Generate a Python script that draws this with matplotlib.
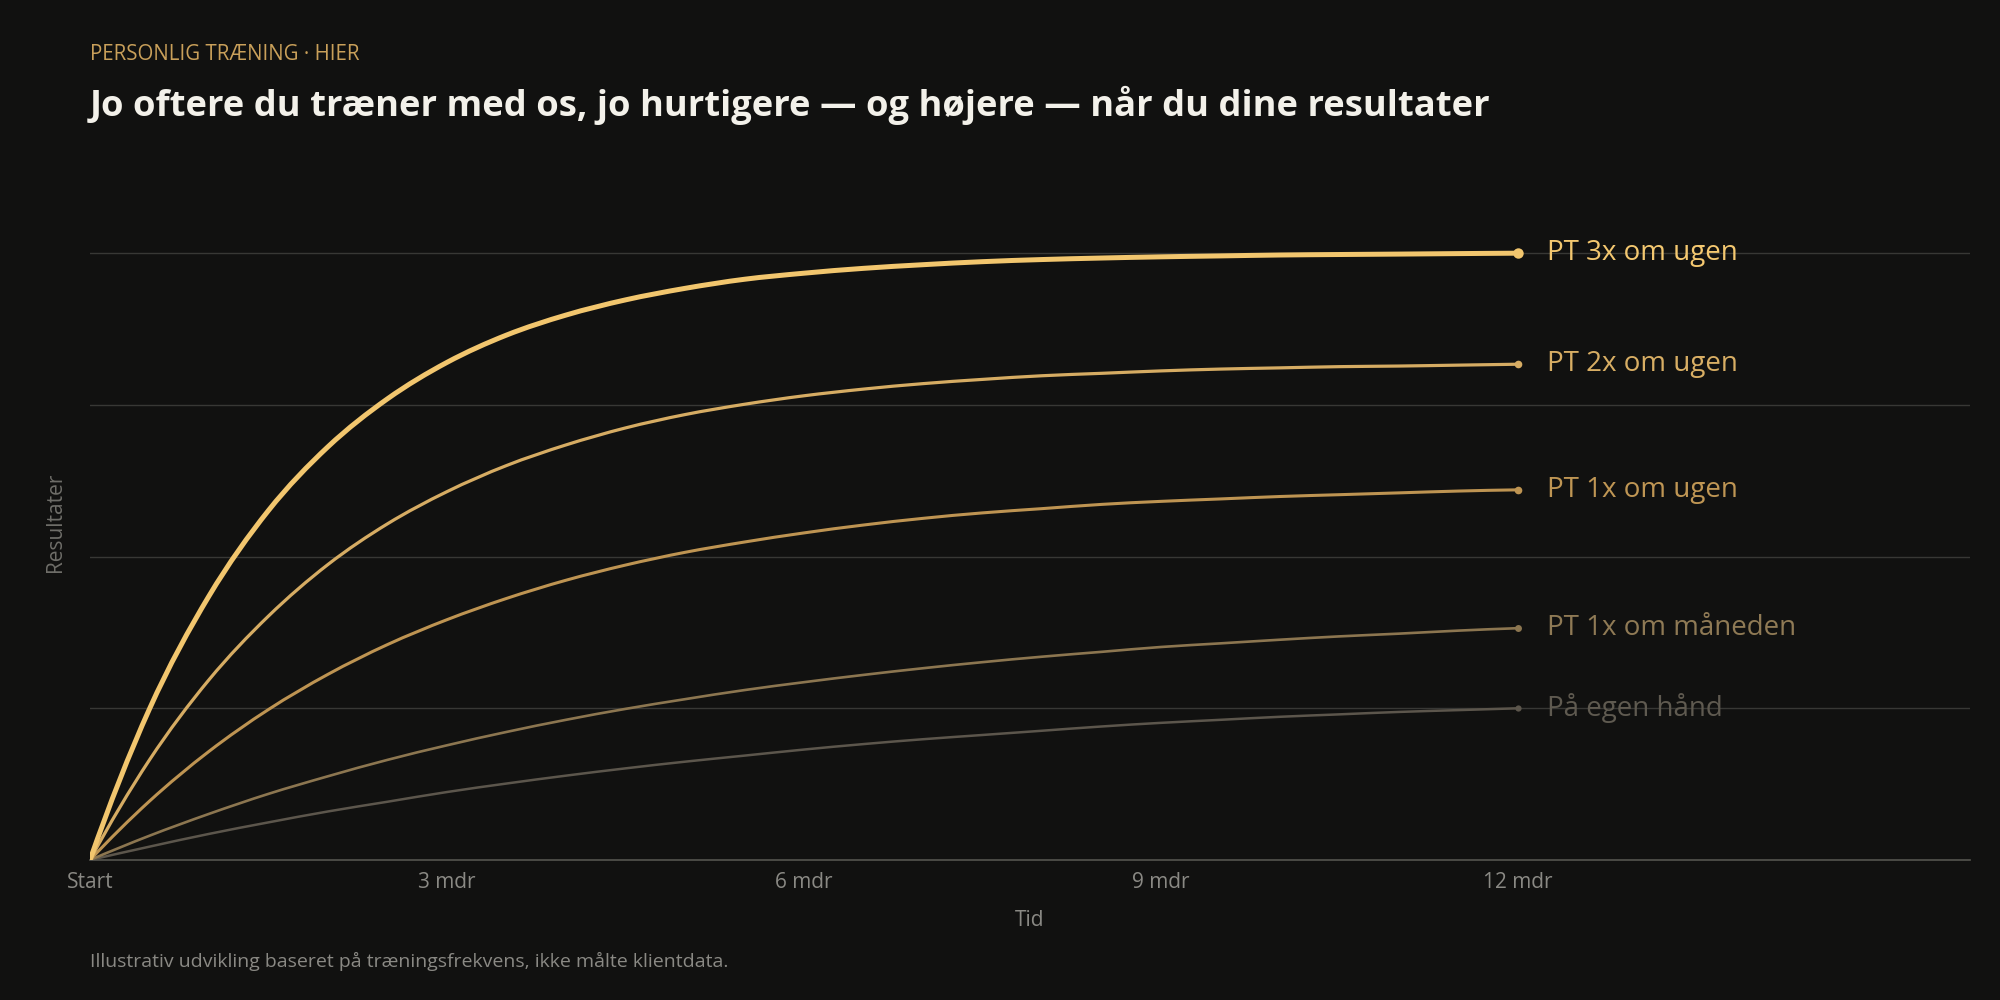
import numpy as np
import matplotlib
matplotlib.use("Agg")
import matplotlib.pyplot as plt
from matplotlib.path import Path
from matplotlib.patches import PathPatch

# months since start, half-month steps
months = [0, 0.5, 1, 1.5, 2, 2.5, 3, 3.5, 4, 4.5, 5, 5.5, 6, 6.5, 7, 7.5, 8, 8.5, 9, 9.5, 10, 10.5, 11, 11.5, 12]

# results (arbitrary index, 100 = PT 3x at 12 months)
pt3_week = [0, 24.9, 43.5, 57.6, 68.1, 76.0, 82.0, 86.5, 89.8, 92.3, 94.2, 95.7, 96.7, 97.5, 98.1,
            98.6, 98.95, 99.2, 99.4, 99.55, 99.7, 99.78, 99.85, 99.93, 100]
pt2_week = [0, 16.5, 29.7, 40.2, 48.7, 55.4, 60.7, 65.0, 68.4, 71.2, 73.4, 75.1, 76.5, 77.6, 78.5,
            79.2, 79.8, 80.2, 80.6, 80.9, 81.1, 81.3, 81.4, 81.55, 81.7]
pt1_week = [0, 9.7, 17.9, 24.8, 30.6, 35.5, 39.6, 43.1, 46.1, 48.6, 50.7, 52.4, 53.9, 55.2, 56.3,
            57.2, 57.9, 58.6, 59.1, 59.5, 59.9, 60.2, 60.5, 60.8, 61.0]
pt1_month = [0, 4.0, 7.6, 10.9, 13.8, 16.5, 18.9, 21.1, 23.1, 24.9, 26.5, 28.0, 29.3, 30.5, 31.6,
             32.6, 33.5, 34.3, 35.1, 35.7, 36.3, 36.85, 37.3, 37.8, 38.2]
own_hand = [0, 2.2, 4.3, 6.2, 8.0, 9.6, 11.2, 12.6, 13.9, 15.1, 16.2, 17.2, 18.2, 19.1, 19.9,
            20.6, 21.3, 22.0, 22.6, 23.1, 23.6, 24.0, 24.4, 24.7, 25.0]

series_names = ["På egen hånd", "PT 1x om måneden", "PT 1x om ugen", "PT 2x om ugen", "PT 3x om ugen"]
series_vals = [own_hand, pt1_month, pt1_week, pt2_week, pt3_week]
series_cols = ["#5c564c", "#8c7650", "#be9452", "#d6ac63", "#f2c66e"]
label_cols = ["#5f5a50", "#8f7a55", "#bf9654", "#d8ae64", "#f4c870"]
line_w = [1.8, 1.9, 2.2, 2.3, 3.6]
dot_size = [4.5, 5, 5.5, 5.5, 7.5]

tick_pos = [0, 3, 6, 9, 12]
tick_labels = ["Start", "3 mdr", "6 mdr", "9 mdr", "12 mdr"]

BG = "#111110"
GRID = "#383835"
MUTED = "#8a8984"
FONT = ["Open Sans", "DejaVu Sans"]

plt.rcParams['font.family'] = FONT


def smooth_path(x, y):
    # cardinal (catmull-rom) curve through the points, as bezier segments
    x = np.asarray(x, float)
    y = np.asarray(y, float)
    h = np.diff(x)
    d = np.diff(y) / h
    m = np.zeros_like(y)
    m[1:-1] = (y[2:] - y[:-2]) / (x[2:] - x[:-2])
    m[0] = 2 * d[0] - m[1]
    m[-1] = 2 * d[-1] - m[-2]
    verts = [(x[0], y[0])]
    codes = [Path.MOVETO]
    for i in range(len(x) - 1):
        verts += [(x[i] + h[i] / 3, y[i] + m[i] * h[i] / 3),
                  (x[i + 1] - h[i] / 3, y[i + 1] - m[i + 1] * h[i] / 3),
                  (x[i + 1], y[i + 1])]
        codes += [Path.CURVE4] * 3
    return Path(verts, codes)


fig = plt.figure(figsize=(20, 10), dpi=100, facecolor=BG)
ax = fig.add_axes([0.045, 0.14, 0.94, 0.676])
ax.set_facecolor(BG)

for name, vals, c, lw, ms, lc in zip(series_names, series_vals, series_cols, line_w, dot_size, label_cols):
    ax.add_patch(PathPatch(smooth_path(months, vals), fill=False, edgecolor=c, lw=lw,
                           capstyle='round', joinstyle='round', zorder=3))
    ax.plot([months[-1]], [vals[-1]], 'o', color=c, ms=ms, mec='none', zorder=4)
    ax.annotate(name, (months[-1], vals[-1]), xytext=(21, 0), textcoords='offset points',
                color=lc, fontsize=20, va='center', ha='left', annotation_clip=False)

ax.set_xlim(0, 15.8)
ax.set_ylim(0, 111.4)
ax.set_yticks([25, 50, 75, 100])
ax.set_yticklabels([])
ax.yaxis.grid(True, color=GRID, lw=1)
ax.tick_params(axis='y', length=0)
ax.set_xticks(tick_pos)
ax.set_xticklabels(tick_labels, color=MUTED, fontsize=15)
ax.tick_params(axis='x', length=0, pad=9)
for s in ['top', 'right', 'left']:
    ax.spines[s].set_visible(False)
ax.spines['bottom'].set_color("#55554f")
ax.spines['bottom'].set_linewidth(1.2)
ax.set_axisbelow(True)

ax.set_xlabel("Tid", color=MUTED, fontsize=15, labelpad=12)
ax.set_ylabel("Resultater", color="#6f6e69", fontsize=15, labelpad=14)

fig.text(0.045, 0.946, "PERSONLIG TRÆNING · HIER", color="#c9a05a", fontsize=14.8, va='center')
fig.text(0.045, 0.895, "Jo oftere du træner med os, jo hurtigere — og højere — når du dine resultater",
         color="#f3f1ea", fontsize=26.2, fontweight='bold', va='center')
fig.text(0.045, 0.039, "Illustrativ udvikling baseret på træningsfrekvens, ikke målte klientdata.",
         color=MUTED, fontsize=14, va='center')

fig.savefig("out.png", dpi=100, facecolor=BG)
